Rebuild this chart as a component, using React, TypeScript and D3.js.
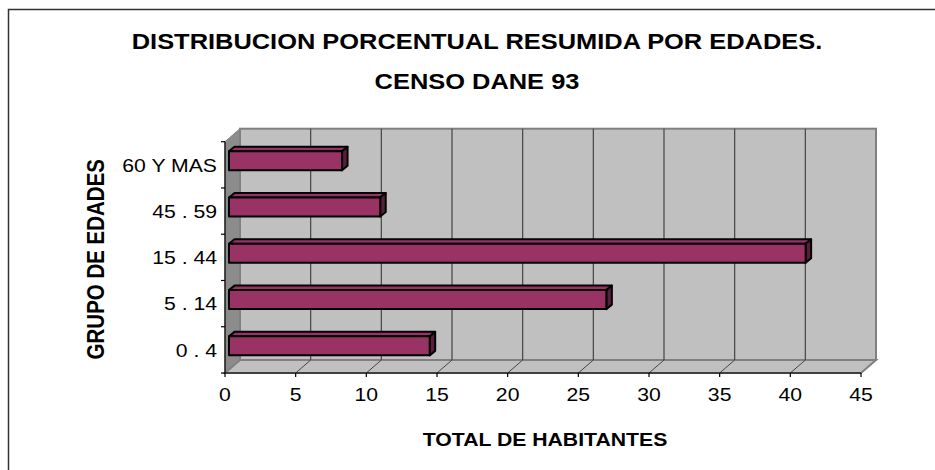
import React from "react";
import * as d3 from "d3";

const categories = ["60 Y MAS", "45 . 59", "15 . 44", "5 . 14", "0 . 4"];
const values = [8.0, 10.7, 40.8, 26.7, 14.2];
const xTicks = [0, 5, 10, 15, 20, 25, 30, 35, 40, 45];
const titleLines = ["DISTRIBUCION PORCENTUAL RESUMIDA POR EDADES.", "CENSO DANE 93"];
const xTitle = "TOTAL DE HABITANTES";
const yTitle = "GRUPO DE EDADES";

const W = 935;
const H = 470;
const SX = 1.14; // horizontal glyph stretch
const FONT = "'Liberation Sans', Arial, sans-serif";

export default function App() {
  const x = d3.scaleLinear().domain([0, 45]).range([225, 861]);
  const y = d3.scaleBand<string>().domain(categories).range([141.7, 373]).padding(0);
  const DX = 15, DY = 13; // wall depth
  const bFX = 4, bFY = 3.5; // bar front offset
  const bDX = 5.5, bDY = 4.5; // bar depth
  const bH = 19;
  const x0 = x(0), x1 = x(45);
  const yTop = y.range()[0], yBot = y.range()[1];

  const pts = (a: number[][]) => a.map((p) => p.join(",")).join(" ");
  const txt = (s: string, tx: number, ty: number, size: number, anchor: string, bold: boolean, rot = 0, key?: any) => (
    <text
      key={key}
      transform={`translate(${tx},${ty}) scale(${SX},1)${rot ? ` rotate(${rot})` : ""}`}
      textAnchor={anchor as any}
      fontFamily={FONT}
      fontSize={size}
      fontWeight={bold ? "bold" : "normal"}
      fill="#000"
    >
      {s}
    </text>
  );

  return (
    <svg width={W} height={H} style={{ position: "absolute", left: 0, top: 0, background: "#fff" }}>
      <rect x={8.5} y={9.5} width={1200} height={1200} fill="#fff" stroke="#333" strokeWidth={1.5} />
      {titleLines.map((t, i) => txt(t, 477, 49.3 + i * 40, 22.3, "middle", true, 0, "t" + i))}

      {/* side wall */}
      <polygon points={pts([[x0, yTop], [x0 + DX, yTop - DY], [x0 + DX, yBot - DY], [x0, yBot]])} fill="#8c8c8c" stroke="#808080" />
      {/* back wall */}
      <rect x={x0 + DX} y={yTop - DY} width={x1 - x0} height={yBot - yTop} fill="#c0c0c0" stroke="#808080" strokeWidth={2} />
      {/* floor */}
      <polygon points={pts([[x0, yBot], [x1, yBot], [x1 + DX, yBot - DY], [x0 + DX, yBot - DY]])} fill="#c0c0c0" stroke="#808080" strokeWidth={2} />
      {/* gridlines */}
      {xTicks.filter((v) => v > 0 && v < 45).map((v) => (
        <g key={"g" + v}>
          <line x1={x(v) + DX} x2={x(v) + DX} y1={yTop - DY} y2={yBot - DY} stroke="#444" strokeWidth={1.2} />
          <line x1={x(v)} x2={x(v) + DX} y1={yBot} y2={yBot - DY} stroke="#444" strokeWidth={1} />
        </g>
      ))}
      {/* axes */}
      <line x1={x0} x2={x1} y1={yBot} y2={yBot} stroke="#000" strokeWidth={1.2} />
      <line x1={x0} x2={x0} y1={yTop} y2={yBot} stroke="#000" strokeWidth={1.2} />
      {xTicks.map((v) => (
        <line key={"xt" + v} x1={x(v)} x2={x(v)} y1={yBot} y2={yBot + 4} stroke="#000" strokeWidth={1.2} />
      ))}
      {d3.range(categories.length + 1).map((k) => {
        const yy = yTop + k * y.bandwidth();
        return <line key={"yt" + k} x1={x0 - 4} x2={x0} y1={yy} y2={yy} stroke="#000" strokeWidth={1.2} />;
      })}

      {/* bars */}
      {categories.map((c, i) => {
        const cy = (y(c) as number) + y.bandwidth() / 2 - bFY;
        const l = x(0) + bFX;
        const r = x(values[i]) + bFX;
        const t = cy - bH / 2 - 0.5;
        const b = t + bH;
        return (
          <g key={"b" + i} stroke="#000" strokeWidth={2} strokeLinejoin="round">
            <polygon points={pts([[l, t], [l + bDX, t - bDY], [r + bDX, t - bDY], [r, t]])} fill="#993366" />
            <polygon points={pts([[r, t], [r + bDX, t - bDY], [r + bDX, b - bDY], [r, b]])} fill="#5a1e3c" />
            <rect x={l} y={t} width={r - l} height={bH} fill="#993366" />
          </g>
        );
      })}

      {/* tick labels */}
      {xTicks.map((v) => txt(String(v), x(v), 400.5, 18.6, "middle", false, 0, "xl" + v))}
      {categories.map((c) => txt(c, 217, (y(c) as number) + y.bandwidth() / 2 + 6.7, 18.6, "end", false, 0, "yl" + c))}

      {txt(xTitle, 545, 446, 18.6, "middle", true)}
      {txt(yTitle, 104, 259.2, 20.5, "middle", true, -90)}
    </svg>
  );
}
